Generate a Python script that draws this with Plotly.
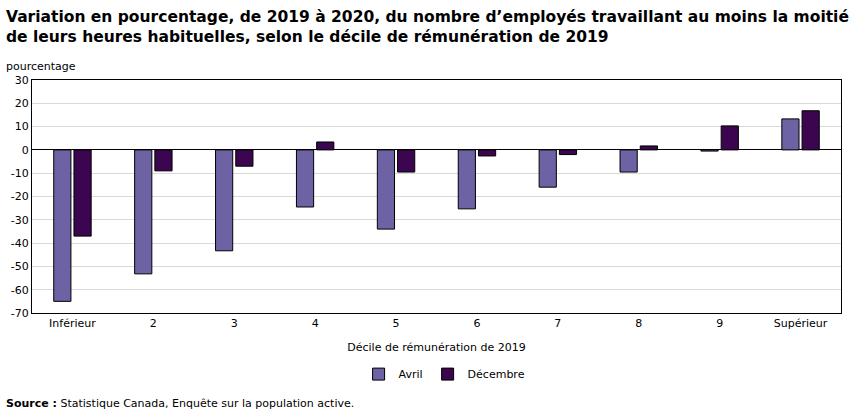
import plotly.graph_objects as go

categories = ["Inférieur", "2", "3", "4", "5", "6", "7", "8", "9", "Supérieur"]
avril = [-65.0, -53.2, -43.3, -24.5, -34.0, -25.3, -16.0, -9.5, -0.5, 13.3]
decembre = [-37.0, -9.0, -7.0, 3.4, -9.5, -2.6, -2.0, 1.7, 10.3, 16.8]
y_ticks = [30, 20, 10, 0, -10, -20, -30, -40, -50, -60, -70]

FONT = "Verdana, DejaVu Sans, sans-serif"

fig = go.Figure()
fig.add_trace(go.Bar(x=categories, y=avril, name="Avril",
                     marker=dict(color="#6d62a4", line=dict(color="black", width=1))))
fig.add_trace(go.Bar(x=categories, y=decembre, name="Décembre",
                     marker=dict(color="#3c0550", line=dict(color="black", width=1))))

fig.update_layout(
    width=851, height=417,
    margin=dict(l=32, r=10, t=80, b=104),
    paper_bgcolor="white", plot_bgcolor="white",
    font=dict(family=FONT, size=11, color="black"),
    barmode="group", bargap=0.5, bargroupgap=0.15,
    showlegend=True,
    legend=dict(orientation="h", x=0.51, xanchor="center", y=-0.2, yanchor="top",
                font=dict(size=11), itemwidth=30, tracegroupgap=0),
    xaxis=dict(
        title=dict(text="Décile de rémunération de 2019", font=dict(size=11), standoff=14),
        showline=True, linecolor="black", linewidth=1, mirror=True,
        ticks="", tickfont=dict(size=11),
    ),
    yaxis=dict(
        range=[-70, 30], tickvals=y_ticks, ticktext=[str(v) for v in y_ticks],
        showline=True, linecolor="black", linewidth=1, mirror=True,
        showgrid=True, gridcolor="#d9d9d9", gridwidth=1,
        zeroline=True, zerolinecolor="black", zerolinewidth=1,
        ticks="", tickfont=dict(size=11),
    ),
)

fig.add_annotation(
    text="<b>Variation en pourcentage, de 2019 à 2020, du nombre d’employés travaillant au moins la moitié<br>de leurs heures habituelles, selon le décile de rémunération de 2019</b>",
    xref="paper", yref="paper", x=-0.034, y=1.0, yshift=74,
    xanchor="left", yanchor="top", align="left", showarrow=False,
    font=dict(family=FONT, size=15.5, color="black"),
)
fig.add_annotation(text="pourcentage", xref="paper", yref="paper", x=-0.034, y=1.0,
                   xanchor="left", yanchor="bottom", yshift=5, showarrow=False,
                   font=dict(size=11))
fig.add_annotation(text="<b>Source :</b> Statistique Canada, Enquête sur la population active.",
                   xref="paper", yref="paper", x=-0.034, y=-0.35, xanchor="left",
                   yanchor="top", showarrow=False, font=dict(size=11))

fig.write_html("out.html")
